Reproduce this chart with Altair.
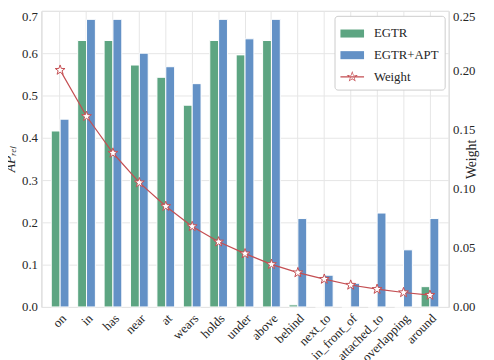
import math
import altair as alt
import pandas as pd

categories = ["on", "in", "has", "near", "at", "wears", "holds", "under", "above",
              "behind", "next_to", "in_front_of", "attached_to", "overlapping", "around"]
egtr = [0.416, 0.630, 0.630, 0.572, 0.543, 0.477, 0.630, 0.596, 0.630,
        0.005, 0.0, 0.0, 0.0, 0.0, 0.048]
egtr_apt = [0.444, 0.680, 0.680, 0.600, 0.568, 0.528, 0.680, 0.634, 0.680,
            0.209, 0.075, 0.056, 0.222, 0.135, 0.209]
weight = [0.200, 0.161, 0.130, 0.105, 0.085, 0.068, 0.055, 0.045, 0.036,
          0.029, 0.0235, 0.0185, 0.015, 0.0122, 0.010]
series_names = ["EGTR", "EGTR+APT", "Weight"]
series_colors = ["#5da582", "#6391c6", "#c44e52"]

GREEN, BLUE, RED = series_colors
FONT = "Liberation Serif"


def star_path(R, r, reverse=False):
    pts = []
    for k in range(10):
        ang = math.radians(-90 + k * 36)
        rad = R if k % 2 == 0 else r
        pts.append((rad * math.cos(ang), rad * math.sin(ang)))
    if reverse:
        pts = pts[::-1]
    s = "M" + " L".join(f"{x:.3f},{y:.3f}" for x, y in pts) + " Z"
    return s


plot_star = star_path(1.0, 0.4)
legend_rect = "M-1,-0.34 H1 V0.34 H-1 Z"
legend_weight = (star_path(0.5, 0.2) + " " + star_path(0.33, 0.13, reverse=True)
                 + " M-1,-0.05 H1 V0.05 H-1 Z")

df_bar = pd.DataFrame({
    "cat": categories * 2,
    "series": [series_names[0]] * len(categories) + [series_names[1]] * len(categories),
    "value": egtr + egtr_apt,
})
df_w = pd.DataFrame({"cat": categories, "weight": weight,
                     "series": [series_names[2]] * len(categories)})

xenc = alt.X("cat:N", sort=categories,
             scale=alt.Scale(paddingInner=0.33, paddingOuter=0.372),
             axis=alt.Axis(title=None, labelAngle=-45, labelAlign="right",
                           labelBaseline="top", labelPadding=5, grid=True))

legend_props = dict(title=None, orient="none", legendX=298, legendY=5,
                    symbolSize=576, symbolStrokeWidth=0, labelFont=FONT,
                    labelFontSize=13, labelColor="#262626", rowPadding=3,
                    labelOffset=10, padding=6, strokeColor="#cccccc",
                    cornerRadius=3, fillColor="white")

color_enc = alt.Color("series:N",
                      scale=alt.Scale(domain=series_names, range=series_colors),
                      legend=alt.Legend(**legend_props))

bars = alt.Chart(df_bar).mark_bar(stroke="white", strokeWidth=1, opacity=1).encode(
    x=xenc,
    xOffset=alt.XOffset("series:N", sort=series_names[:2]),
    y=alt.Y("value:Q", scale=alt.Scale(domain=[0, 0.7]),
            axis=alt.Axis(title="APᵣₑₗ", titleFontStyle="italic",
                          values=[0, 0.1, 0.2, 0.3, 0.4, 0.5, 0.6, 0.7], format=".1f",
                          labelBaseline={"condition": {"test": "datum.value >= 0.69", "value": "top"},
                                         "value": "middle"},
                          titlePadding=4)),
    color=color_enc,
)

yw = alt.Y("weight:Q", scale=alt.Scale(domain=[0, 0.25]),
           axis=alt.Axis(orient="right", title="Weight", titleAngle=270,
                         values=[0, 0.05, 0.1, 0.15, 0.2, 0.25], format=".2f",
                         labelBaseline={"condition": {"test": "datum.value >= 0.249", "value": "top"},
                                        "value": "middle"},
                         titlePadding=4))

line = alt.Chart(df_w).mark_line(color=RED, strokeWidth=1.2).encode(
    x=alt.X("cat:N", sort=categories), y=yw)
points = alt.Chart(df_w).mark_point(shape=plot_star, size=110, filled=True, fill="white",
                                    stroke=RED, strokeWidth=1, opacity=1).encode(
    x=alt.X("cat:N", sort=categories), y=yw)
dummy = alt.Chart(df_w).transform_filter("false").mark_point(filled=True, opacity=1).encode(
    x=alt.X("cat:N", sort=categories), y=yw,
    color=color_enc,
    shape=alt.Shape("series:N",
                    scale=alt.Scale(domain=series_names,
                                    range=[legend_rect, legend_rect, legend_weight]),
                    legend=alt.Legend(**legend_props)),
)

right = alt.layer(line, points, dummy)

chart = alt.layer(bars, right).resolve_scale(y="independent").properties(
    width=414, height=301,
    autosize=alt.AutoSizeParams(type="none"),
    padding={"left": 34, "top": 0, "right": 38, "bottom": 52},
).configure_view(stroke="#cccccc", strokeWidth=1).configure_axis(
    labelFont=FONT, labelFontSize=13, labelColor="#262626",
    titleFont=FONT, titleFontSize=14, titleFontWeight="normal", titleColor="#262626",
    gridColor="#e6e6e6", gridWidth=1, domain=False, ticks=False, labelPadding=4,
)

chart.save("out.html", embed_options={"renderer": "svg", "actions": False})
